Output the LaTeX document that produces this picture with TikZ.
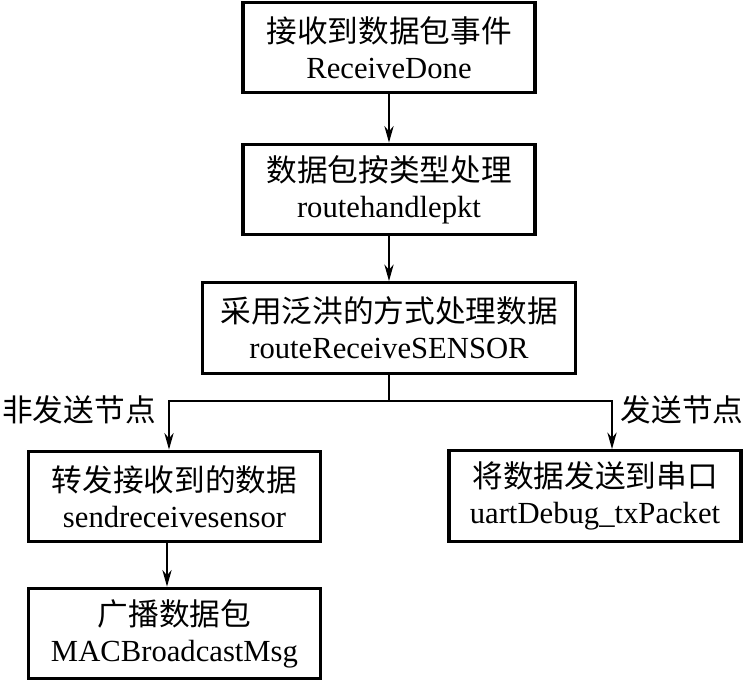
\documentclass[tikz,border=0pt]{standalone}
\usepackage{fontspec}
\setmainfont{Liberation Serif}
\newfontfamily\cjk{Noto Sans CJK SC}
\usetikzlibrary{arrows.meta}

\begin{document}
\begin{tikzpicture}[x=0.75pt,y=-0.75pt,
    procbox/.style={draw, line width=2.4pt, minimum width=#1, minimum height=68pt,
        inner sep=0pt, align=center, font=\fontsize{23}{27}\selectfont},
    procbox/.default=219pt,
    flowline/.style={line width=1.1pt, -{Stealth[length=12.5pt,width=7pt]}},
    branchlbl/.style={font=\fontsize{23}{27}\selectfont\cjk, inner sep=0pt}]
    % Fix the picture size
    \useasboundingbox (0,0) rectangle (745,681);

    % Main chain of processing boxes
    \node[procbox] (recv) at (389,47.5) {{\cjk 接收到数据包事件}\\ReceiveDone};
    \node[procbox] (handle) at (389,189.5) {{\cjk 数据包按类型处理}\\routehandlepkt};
    \node[procbox=280pt] (flood) at (389,328) {{\cjk 采用泛洪的方式处理数据}\\routeReceiveSENSOR};

    % Two branches
    \node[procbox] (fwd) at (174.5,496.5) {{\cjk 转发接收到的数据}\\sendreceivesensor};
    \node[procbox] (uart) at (595,496) {{\cjk 将数据发送到串口}\\uartDebug\_txPacket};
    \node[procbox] (bcast) at (174.5,633.5) {{\cjk 广播数据包}\\MACBroadcastMsg};

    % Arrows down the chain
    \draw[flowline] (recv.south) -- (handle.north);
    \draw[flowline] (handle.south) -- (flood.north);

    % Split line and branch arrows
    \coordinate (split) at (389,401);
    \coordinate (lturn) at (169,401);
    \coordinate (rturn) at (612,401);
    \coordinate (ldrop) at (167,0);
    \draw[line width=1.1pt] (flood.south) -- (split);
    \draw[flowline] (split) -- (lturn) -- (lturn |- fwd.north);
    \draw[flowline] (split) -- (rturn) -- (rturn |- uart.north);
    \draw[flowline] (fwd.south -| ldrop) -- (bcast.north -| ldrop);

    % Branch labels
    \node[branchlbl] (lblno) at (79,410) {非发送节点};
    \node[branchlbl] (lblyes) at (682,410) {发送节点};
\end{tikzpicture}
\end{document}
